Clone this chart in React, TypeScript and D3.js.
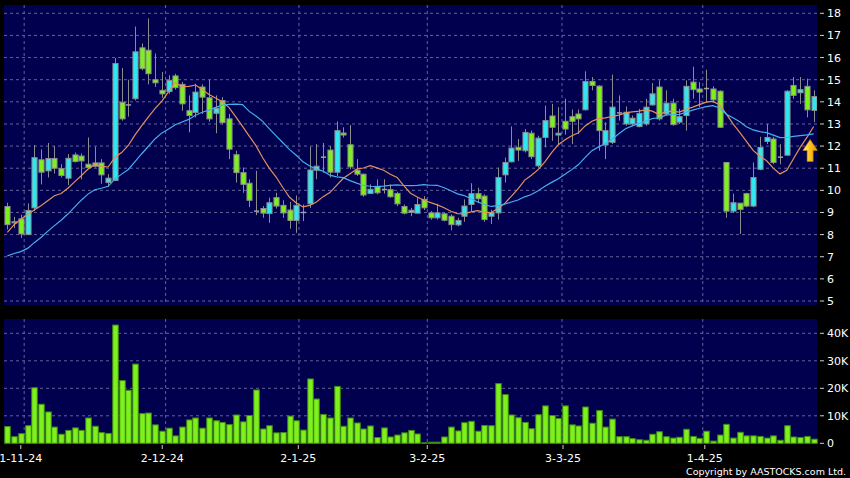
import React, { useEffect } from "react";
import * as d3 from "d3";

// ---- data ----
const opens = [
  9.27, 8.58, 8.71, 8.0, 9.21, 11.38, 10.88, 11.44, 10.98, 10.55,
  11.6, 11.55, 11.18, 11.24, 11.24, 10.35, 10.45, 13.98, 13.86, 14.14,
  16.44, 16.33, 15.0, 14.52, 14.47, 15.17, 14.79, 13.6, 13.52, 14.67,
  14.18, 13.48, 14.06, 13.23, 11.61, 10.8, 10.32, 9.06, 9.18, 8.95,
  9.67, 9.32, 9.11, 8.64, 9.0, 9.39, 10.91, 11.5, 11.82, 10.82,
  12.59, 12.06, 10.91, 10.73, 9.86, 10.18, 10.04, 10.03, 9.86, 9.27,
  9.0, 8.97, 9.59, 8.98, 8.76, 8.94, 8.83, 8.44, 8.83, 9.36,
  9.85, 9.74, 8.83, 8.98, 10.7, 11.29, 11.94, 11.79, 12.58, 11.11,
  12.39, 13.36, 12.5, 13.12, 13.33, 13.45, 13.64, 14.92, 14.71, 12.05,
  12.17, 13.5, 13.0, 13.0, 12.88, 13.0, 13.86, 14.67, 13.45, 13.94,
  13.08, 13.38, 14.89, 14.58, 14.6, 14.58, 14.48, 11.26, 9.06, 9.42,
  9.85, 9.29, 10.95, 12.21, 12.32, 11.5, 11.59, 14.74, 14.41, 14.7,
  13.61,
];
const highs = [
  9.44, 8.8, 8.9, 9.41, 12.05, 11.85, 12.14, 12.0, 11.18, 11.64,
  11.71, 11.67, 12.39, 11.97, 11.41, 10.73, 15.98, 15.53, 15.0, 17.4,
  16.64, 17.77, 16.18, 15.35, 15.2, 15.27, 14.9, 14.29, 14.82, 14.79,
  15.0, 14.29, 14.21, 13.45, 11.79, 11.03, 10.5, 10.88, 9.29, 9.67,
  9.89, 9.55, 9.48, 9.77, 9.36, 11.97, 12.09, 12.14, 12.0, 13.11,
  12.85, 12.95, 11.41, 10.76, 10.27, 10.5, 10.5, 10.27, 9.94, 9.36,
  9.21, 9.67, 9.74, 9.06, 9.39, 8.98, 8.91, 8.76, 9.59, 10.32,
  10.12, 9.82, 9.12, 11.03, 11.48, 12.89, 12.32, 12.77, 12.7, 12.47,
  13.83, 13.91, 13.76, 14.14, 13.65, 13.65, 15.38, 15.12, 14.74, 13.08,
  15.23, 14.29, 13.79, 13.38, 13.68, 14.14, 14.85, 14.97, 14.52, 14.14,
  13.68, 14.97, 15.58, 14.89, 15.45, 14.7, 14.52, 11.26, 9.85, 9.42,
  9.89, 11.26, 12.42, 13.0, 12.42, 12.09, 14.52, 15.12, 15.12, 15.05,
  14.52,
];
const lows = [
  8.23, 8.3, 7.85, 8.0, 9.06, 10.27, 10.58, 10.76, 10.58, 10.24,
  11.26, 10.5, 10.95, 11.03, 10.3, 10.15, 10.42, 13.15, 13.33, 14.06,
  15.42, 14.79, 14.67, 14.18, 14.36, 14.55, 13.6, 12.62, 13.3, 13.45,
  13.1, 12.58, 12.97, 11.41, 10.35, 9.89, 9.24, 8.88, 8.76, 8.53,
  9.18, 8.76, 8.27, 8.08, 8.61, 9.21, 10.5, 10.8, 10.58, 10.65,
  12.39, 10.95, 10.65, 9.71, 9.85, 9.82, 9.85, 9.67, 9.29, 8.91,
  8.83, 8.95, 9.11, 8.68, 8.68, 8.6, 8.2, 8.38, 8.58, 9.06,
  9.44, 8.58, 8.48, 8.68, 10.35, 11.26, 11.33, 11.71, 11.41, 11.03,
  11.94, 12.24, 12.09, 12.52, 12.09, 12.55, 13.61, 14.52, 11.79, 11.41,
  12.09, 13.15, 12.92, 12.92, 12.85, 12.92, 13.83, 13.15, 13.38, 12.92,
  13.0, 12.7, 14.14, 13.76, 13.98, 13.98, 12.82, 8.76, 8.98, 8.03,
  9.24, 9.24, 10.91, 12.09, 11.18, 11.18, 11.56, 14.14, 13.91, 13.3,
  13.08,
];
const closes = [
  8.45, 8.53, 8.03, 9.09, 11.48, 10.82, 11.44, 11.0, 10.67, 11.45,
  11.3, 11.33, 11.03, 11.09, 10.7, 10.55, 15.73, 13.23, 13.86, 16.26,
  15.5, 15.27, 14.86, 14.36, 14.97, 14.64, 13.91, 13.38, 14.44, 14.21,
  13.23, 13.71, 13.06, 11.86, 10.8, 10.27, 9.55, 9.06, 8.97, 9.44,
  9.29, 8.98, 8.64, 9.32, 9.0, 10.92, 11.09, 11.5, 10.82, 12.7,
  12.5, 11.06, 10.73, 9.79, 10.05, 9.89, 10.04, 9.71, 9.39, 8.97,
  9.1, 9.36, 9.21, 8.76, 8.98, 8.65, 8.45, 8.64, 9.29, 9.85,
  9.62, 8.68, 9.0, 10.58, 11.26, 11.91, 11.82, 12.62, 11.52, 12.36,
  13.15, 12.85, 12.58, 12.77, 13.12, 13.23, 14.92, 14.74, 12.7, 12.7,
  13.76, 13.5, 13.53, 13.26, 13.48, 13.76, 14.36, 13.23, 13.94, 12.97,
  13.33, 14.7, 14.55, 14.44, 14.6, 14.09, 12.85, 9.06, 9.44, 9.14,
  9.29, 10.58, 11.94, 12.39, 11.26, 11.48, 14.48, 14.29, 14.55, 13.64,
  14.24,
];
const volumesK = [
  6.1, 2.4, 3.5, 6.4, 20.2, 14.2, 11.4, 5.9, 3.3, 4.7,
  5.6, 4.7, 9.2, 6.2, 3.9, 3.6, 43.0, 22.8, 19.3, 28.8,
  10.8, 11.0, 6.7, 4.4, 5.5, 2.7, 5.9, 8.5, 9.2, 5.5,
  9.2, 8.2, 7.6, 6.8, 10.3, 7.8, 10.1, 19.4, 5.2, 6.4,
  3.8, 3.9, 9.9, 8.2, 4.8, 23.4, 16.1, 10.5, 9.2, 20.7,
  6.2, 9.2, 7.4, 5.2, 6.3, 2.1, 5.6, 2.3, 3.0, 3.8,
  4.7, 3.4, 0.2, 0.4, 0.4, 2.3, 5.9, 4.5, 7.5, 8.0,
  4.4, 6.5, 6.4, 21.7, 17.7, 10.3, 9.3, 7.6, 5.3, 10.4,
  13.6, 10.1, 9.0, 13.6, 6.7, 6.3, 13.2, 7.3, 11.9, 5.9,
  8.8, 2.4, 2.4, 1.7, 1.3, 1.1, 3.3, 4.2, 2.4, 1.9,
  2.2, 5.1, 2.5, 1.8, 4.4, 0.8, 3.0, 6.9, 1.9, 4.0,
  2.7, 2.7, 2.5, 1.9, 2.7, 1.1, 6.4, 2.3, 2.1, 2.5,
  1.5,
];
// closes before the first visible candle, used only to warm up the moving averages
const priorCloses = [
  6.4, 6.3, 6.2, 6.3, 6.17, 5.9, 5.8, 5.8, 5.86, 5.07,
  5.05, 5.53, 7.09, 9.38, 8.82, 9.24, 8.7, 9.67, 9.07,
];
const priceTicks = [5, 6, 7, 8, 9, 10, 11, 12, 13, 14, 15, 16, 17, 18];
const volumeTicks = [0, 10, 20, 30, 40];
const volumeTickLabels = ["0", "10K", "20K", "30K", "40K"];
const dateLabels = ["1-11-24", "2-12-24", "2-1-25", "3-2-25", "3-3-25", "1-4-25"];
const dateTickIndex = [2, 23.05, 43.3, 62.5, 82.7, 103.8];
const dateGridIndex = [2.5, 23.55, 43.4, 62.5, 82.55, 103.5];
const maPeriods = [10, 20];
const arrowPrice = 12.3;

// ---- layout ----
const W = 850;
const H = 478;
const panelL = 4;
const panelR = 817;
const mainTop = 5;
const mainBot = 305;
const volTop = 319;
const volBot = 444;

const BG = "#000000";
const PANEL = "#00004f";
const GRID = "#62629a";
const UP = "#30e6f0";
const DOWN = "#7ef01c";
const OUTLINE = "#8c8c8c";
const MA_COLORS = ["#e2905c", "#45aef0"];
const FONT = "DejaVu Sans, Verdana, sans-serif";

export default function App() {
  useEffect(() => {
    document.body.style.margin = "0";
    document.body.style.background = "#000";
  }, []);

  const n = closes.length;
  const x = d3.scaleLinear().domain([-0.5, n - 0.5]).range([panelL, panelR]);
  const y = d3.scaleLinear().domain([5, 18]).range([301, 13.3]);
  const yv = d3.scaleLinear().domain([0, 40]).range([443.3, 333.3]);
  const slot = x(1) - x(0);
  const bodyW = slot - 1.6;
  const volW = slot - 1.2;

  const all = [...priorCloses, ...closes];
  const maSeries = maPeriods.map((p) =>
    closes.map((_, i) => {
      const j = i + priorCloses.length;
      return d3.mean(all.slice(j - p + 1, j + 1)) as number;
    })
  );
  const line = d3
    .line<number>()
    .x((_, i) => x(i))
    .y((d) => y(d));

  const ax = x(n - 1) - 3.5;
  const ay = y(arrowPrice);
  const arrowPts = [
    [ax, ay],
    [ax + 7.3, ay + 11],
    [ax + 3, ay + 11],
    [ax + 3, ay + 22],
    [ax - 3, ay + 22],
    [ax - 3, ay + 11],
    [ax - 7.3, ay + 11],
  ]
    .map((p) => p.join(","))
    .join(" ");

  return (
    <svg
      width={W}
      height={H}
      viewBox={`0 0 ${W} ${H}`}
      style={{ position: "absolute", left: 0, top: 0, display: "block" }}
      fontFamily={FONT}
    >
      <defs>
        <clipPath id="mainClip">
          <rect x={panelL} y={mainTop} width={panelR - panelL} height={mainBot - mainTop} />
        </clipPath>
        <linearGradient id="arrowGrad" x1="0" x2="1" y1="0" y2="0">
          <stop offset="0" stopColor="#fff3a8" />
          <stop offset="0.45" stopColor="#ffc61c" />
          <stop offset="1" stopColor="#e49400" />
        </linearGradient>
      </defs>
      <rect x={0} y={0} width={W} height={H} fill={BG} />

      {/* main panel */}
      <rect x={panelL} y={mainTop} width={panelR - panelL} height={mainBot - mainTop} fill={PANEL} />
      {priceTicks.map((t) => (
        <line key={"hg" + t} x1={panelL} x2={panelR} y1={y(t)} y2={y(t)} stroke={GRID} strokeDasharray="3,3" />
      ))}
      {dateGridIndex.map((d, k) => (
        <line key={"vg" + k} x1={x(d)} x2={x(d)} y1={mainTop} y2={mainBot} stroke={GRID} strokeDasharray="3,3" />
      ))}

      <g clipPath="url(#mainClip)">
        {closes.map((c, i) => {
          const o = opens[i];
          const cx = Math.round(x(i)) + 0.5;
          const up = c > o;
          const flat = Math.abs(c - o) < 0.02;
          const top = y(Math.max(o, c));
          const bot = y(Math.min(o, c));
          return (
            <g key={"c" + i}>
              <line x1={cx} x2={cx} y1={y(highs[i])} y2={y(lows[i])} stroke={OUTLINE} strokeWidth={1} />
              {flat ? (
                <line x1={cx - bodyW / 2} x2={cx + bodyW / 2} y1={top} y2={top} stroke="#a0a0a0" strokeWidth={1.5} />
              ) : (
                <rect
                  x={cx - bodyW / 2}
                  y={top}
                  width={bodyW}
                  height={Math.max(1, bot - top)}
                  fill={up ? UP : DOWN}
                  stroke={OUTLINE}
                  strokeWidth={1}
                />
              )}
            </g>
          );
        })}
        {maSeries.map((s, k) => (
          <path key={"ma" + k} d={line(s) || ""} fill="none" stroke={MA_COLORS[k]} strokeWidth={1.2} />
        ))}
      </g>
      <polygon points={arrowPts} fill="url(#arrowGrad)" stroke="#c98200" strokeWidth={0.6} />

      {/* price axis */}
      {priceTicks.map((t) => (
        <g key={"pt" + t}>
          <line x1={820} x2={824} y1={y(t)} y2={y(t)} stroke="#cfcfcf" />
          <text x={827} y={y(t)} dy="0.36em" fill="#fff" fontSize={11}>
            {t}
          </text>
        </g>
      ))}

      {/* volume panel */}
      <rect x={panelL} y={volTop} width={panelR - panelL} height={volBot - volTop} fill={PANEL} />
      {volumeTicks.slice(1).map((t) => (
        <line key={"vhg" + t} x1={panelL} x2={panelR} y1={yv(t)} y2={yv(t)} stroke={GRID} strokeDasharray="3,3" />
      ))}
      {dateGridIndex.map((d, k) => (
        <line key={"vvg" + k} x1={x(d)} x2={x(d)} y1={volTop} y2={volBot} stroke={GRID} strokeDasharray="3,3" />
      ))}
      {volumesK.map((v, i) => {
        const cx = Math.round(x(i)) + 0.5;
        return (
          <rect
            key={"v" + i}
            x={cx - volW / 2}
            y={yv(v)}
            width={volW}
            height={Math.max(0.5, yv(0) - yv(v))}
            fill={DOWN}
            stroke="#3f8a12"
            strokeWidth={1}
          />
        );
      })}
      {volumeTicks.map((t, k) => (
        <g key={"vt" + t}>
          <line x1={820} x2={824} y1={yv(t)} y2={yv(t)} stroke="#cfcfcf" />
          <text x={827} y={yv(t)} dy="0.36em" fill="#fff" fontSize={11}>
            {volumeTickLabels[k]}
          </text>
        </g>
      ))}

      {/* date axis */}
      {dateTickIndex.map((d, k) => (
        <g key={"dt" + k}>
          <line x1={x(d)} x2={x(d)} y1={445} y2={449} stroke="#cfcfcf" />
          <text x={x(d)} y={462} textAnchor="middle" fill="#fff" fontSize={11}>
            {dateLabels[k]}
          </text>
        </g>
      ))}

      <text x={846} y={475} textAnchor="end" fill="#fff" fontSize={9.5}>
        Copyright by AASTOCKS.com Ltd.
      </text>
    </svg>
  );
}
